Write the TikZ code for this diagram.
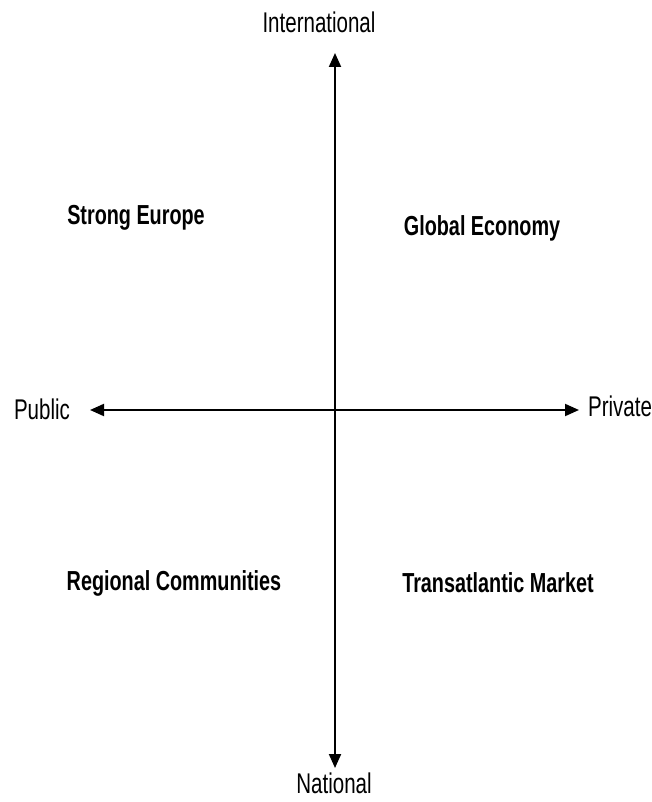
\documentclass[tikz,border=0pt]{standalone}
\usepackage{fontspec}
\setmainfont{Liberation Sans}[FakeStretch=0.72]
\usetikzlibrary{arrows.meta}

\tikzset{
    axis/.style={line width=2pt, {Triangle[length=14pt,width=12pt]}-{Triangle[length=14pt,width=12pt]}},
    pole/.style={font=\fontsize{28.5}{30}\selectfont, inner sep=0pt},
    scenario/.style={font=\fontsize{27.5}{30}\selectfont\bfseries, inner sep=0pt}
}

\begin{document}
\begin{tikzpicture}[x=1pt,y=-1pt]
\useasboundingbox (0,0) rectangle (652,802);

% ends of the two axes
\coordinate (top) at (335,53);
\coordinate (bottom) at (335,768);
\coordinate (left) at (90,410);
\coordinate (right) at (579,410);

\draw[axis] (bottom) -- (top);
\draw[axis] (left) -- (right);

% poles
\node[pole] (intl) at (319,22) {International};
\node[pole] (natl) at (334,783) {National};
\node[pole] (public) at (42,409) {Public};
\node[pole] (private) at (620,406) {Private};

% scenarios
\node[scenario] (europe) at (136,218) {Strong Europe};
\node[scenario] (global) at (482,228) {Global Economy};
\node[scenario] (regional) at (174,583) {Regional Communities};
\node[scenario] (atlantic) at (498,583) {Transatlantic Market};
\end{tikzpicture}
\end{document}
